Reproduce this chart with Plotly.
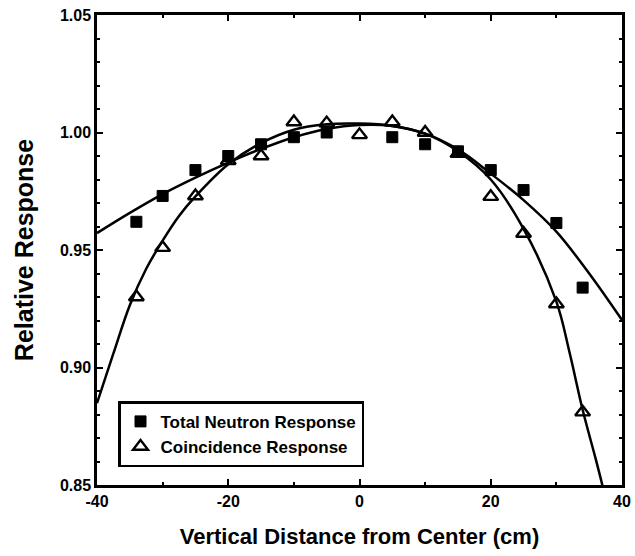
import plotly.graph_objects as go

x_pts = [-34, -30, -25, -20, -15, -10, -5, 5, 10, 15, 20, 25, 30, 34]
total_neutron = [0.962, 0.973, 0.984, 0.990, 0.995, 0.998, 1.000, 0.998, 0.995, 0.992, 0.984, 0.9755, 0.9615, 0.934]

x_coinc = [-34, -30, -25, -20, -15, -10, -5, 0, 5, 10, 15, 20, 25, 30, 34]
coincidence = [0.930, 0.951, 0.973, 0.988, 0.990, 1.0045, 1.004, 0.999, 1.0045, 1.000, 0.991, 0.9727, 0.957, 0.927, 0.881]

# Fitted curves
fit_x = [-40, -35, -30, -25, -20, -15, -10, -5, 0, 5, 10, 15, 20, 25, 30, 35, 40]
fit_total = [0.9572, 0.9658, 0.9738, 0.9808, 0.9872, 0.9930, 0.9980, 1.0015, 1.0032, 1.0028, 0.9995, 0.9928, 0.9825, 0.9712, 0.9578, 0.9400, 0.9202]

fitc_x = [-40, -37.5, -35, -32.5, -30, -27.5, -25, -20, -15, -10, -5, 0, 5, 10, 15, 20, 25, 30, 32, 34, 36, 37, 38]
fit_coinc = [0.8848, 0.9060, 0.9265, 0.9420, 0.9540, 0.9645, 0.9728, 0.9865, 0.9955, 1.0012, 1.0035, 1.0038, 1.0028, 0.9995, 0.9920, 0.9800, 0.9590, 0.9280, 0.9065, 0.8820, 0.8610, 0.8500, 0.8380]

x_ticks = [-40, -20, 0, 20, 40]
x_tick_text = ["-40", "-20", "0", "20", "40"]
y_ticks = [0.85, 0.90, 0.95, 1.00, 1.05]

FONT = "Liberation Sans"

fig = go.Figure()
fig.add_trace(go.Scatter(x=fit_x, y=fit_total, mode="lines", line=dict(color="black", width=2.5, shape="spline"),
                         showlegend=False, hoverinfo="skip"))
fig.add_trace(go.Scatter(x=fitc_x, y=fit_coinc, mode="lines", line=dict(color="black", width=2.5, shape="spline"),
                         showlegend=False, hoverinfo="skip"))
fig.add_trace(go.Scatter(x=x_pts, y=total_neutron, mode="markers", name="Total Neutron Response",
                         marker=dict(symbol="square", size=11, color="black", line=dict(color="black", width=1))))
fig.add_trace(go.Scatter(x=x_coinc, y=coincidence, mode="markers", name="Coincidence Response",
                         marker=dict(symbol="triangle-up-open", size=13, color="black", line=dict(color="black", width=2.4))))

axis_common = dict(showline=True, linecolor="black", linewidth=2.5, mirror="ticks", ticks="inside",
                   tickcolor="black", tickwidth=2, ticklen=6, showgrid=False, zeroline=False, automargin=False,
                   tickfont=dict(family=FONT, size=16, color="black", weight="bold"))

fig.update_xaxes(range=[-40, 40], tickvals=x_ticks, ticktext=x_tick_text,
                 minor=dict(dtick=10, tick0=0, ticks="inside", ticklen=3, tickwidth=2, tickcolor="black"),
                 title=dict(text="Vertical Distance from Center (cm)", standoff=20,
                            font=dict(family=FONT, size=22, color="black", weight="bold")),
                 **axis_common)
fig.update_yaxes(range=[0.85, 1.05], tickvals=y_ticks, tickformat=".2f",
                 minor=dict(dtick=0.01, tick0=0.85, ticks="inside", ticklen=3, tickwidth=2, tickcolor="black"),
                 title=dict(text="Relative Response", standoff=20,
                            font=dict(family=FONT, size=25, color="black", weight="bold")),
                 **axis_common)

fig.update_layout(
    width=635, height=556,
    margin=dict(l=97, r=13, t=15, b=71),
    plot_bgcolor="white", paper_bgcolor="white",
    legend=dict(x=0.04, y=0.178, xanchor="left", yanchor="top",
                bordercolor="black", borderwidth=2.5, bgcolor="white",
                font=dict(family=FONT, size=17, color="black", weight="bold"),
                itemwidth=30, tracegroupgap=0),
)

fig.write_html("out.html")
